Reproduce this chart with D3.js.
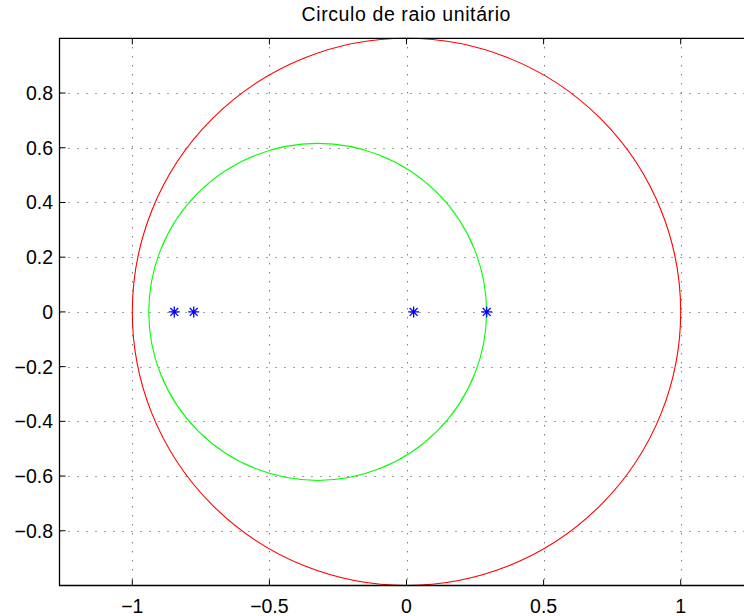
<!DOCTYPE html>
<html>
<head>
<meta charset="utf-8">
<script src="https://cdn.jsdelivr.net/npm/d3@7/dist/d3.min.js"></script>
<style>
  html, body { margin: 0; padding: 0; background: #fff; }
  svg { display: block; }
  text { font-family: "Liberation Sans", Arial, Helvetica, sans-serif; fill: #000; }
</style>
</head>
<body>
<div id="chart"></div>
<script>
// Chart data
const chartTitle = "Circulo de raio unitário";
const xTicks = [-1, -0.5, 0, 0.5, 1];
const yTicks = [-0.8, -0.6, -0.4, -0.2, 0, 0.2, 0.4, 0.6, 0.8];
const xDomain = [-1.2655, 1.2655];
const yDomain = [-1, 1];

// Circles: unit circle (red) and inner circle (green)
const circleNames = ["unit", "inner"];
const circleCenterX = [0, -0.324];
const circleCenterY = [0, 0];
const circleRadius = [1, 0.616];
const circleColors = ["#ff0000", "#00ff00"];

// Points marked with asterisks on the real axis
const pointX = [-0.847, -0.776, 0.026, 0.2925];
const pointY = [0, 0, 0, 0];

const W = 744, H = 616;
const plotLeft = 59.5, plotRight = 753.5, plotTop = 38.3, plotBottom = 585.5;

const svg = d3.select("#chart").append("svg")
  .attr("width", W).attr("height", H);

const x = d3.scaleLinear().domain(xDomain).range([plotLeft, plotRight]);
const y = d3.scaleLinear().domain(yDomain).range([plotBottom, plotTop]);

const fmt = v => (v < 0 ? "\u2212" : "") + String(Math.abs(+v.toFixed(2)));

// Dotted grid
const grid = svg.append("g")
  .attr("stroke", "#444").attr("stroke-width", 1)
  .attr("stroke-dasharray", "1,8");
grid.selectAll("line.gx").data(xTicks).enter().append("line")
  .attr("x1", d => Math.round(x(d)) + 0.5).attr("x2", d => Math.round(x(d)) + 0.5)
  .attr("y1", plotTop).attr("y2", plotBottom);
grid.selectAll("line.gy").data(yTicks).enter().append("line")
  .attr("y1", d => Math.round(y(d)) + 0.5).attr("y2", d => Math.round(y(d)) + 0.5)
  .attr("x1", plotLeft).attr("x2", plotRight);

// Circles
svg.append("g").selectAll("ellipse").data(circleNames).enter().append("ellipse")
  .attr("cx", (d, i) => x(circleCenterX[i]))
  .attr("cy", (d, i) => y(circleCenterY[i]))
  .attr("rx", (d, i) => x(circleRadius[i]) - x(0))
  .attr("ry", (d, i) => y(0) - y(circleRadius[i]))
  .attr("fill", "none")
  .attr("stroke", (d, i) => circleColors[i])
  .attr("stroke-width", 1.1);

// Asterisk markers
const s = 5.5, sd = s * 0.72;
const star = `M${-s},0L${s},0M0,${-s}L0,${s}M${-sd},${-sd}L${sd},${sd}M${-sd},${sd}L${sd},${-sd}`;
svg.append("g").selectAll("path").data(pointX).enter().append("path")
  .attr("transform", (d, i) => `translate(${x(d)},${y(pointY[i])})`)
  .attr("d", star)
  .attr("fill", "none").attr("stroke", "#0000ff").attr("stroke-width", 1.3);

// Axes box and inward ticks
const ax = svg.append("g").attr("stroke", "#000").attr("stroke-width", 1.3).attr("fill", "none");
ax.append("path").attr("d", `M${plotRight},${plotTop}H${plotLeft}V${plotBottom}H${plotRight}V${plotTop}`);
const tl = 6;
ax.selectAll("line.tb").data(xTicks).enter().append("line")
  .attr("x1", d => x(d)).attr("x2", d => x(d)).attr("y1", plotBottom).attr("y2", plotBottom - tl)
  .attr("stroke-width", 1);
ax.selectAll("line.tt").data(xTicks).enter().append("line")
  .attr("x1", d => x(d)).attr("x2", d => x(d)).attr("y1", plotTop).attr("y2", plotTop + tl)
  .attr("stroke-width", 1);
ax.selectAll("line.tl").data(yTicks).enter().append("line")
  .attr("y1", d => y(d)).attr("y2", d => y(d)).attr("x1", plotLeft).attr("x2", plotLeft + tl)
  .attr("stroke-width", 1);
ax.selectAll("line.tr").data(yTicks).enter().append("line")
  .attr("y1", d => y(d)).attr("y2", d => y(d)).attr("x1", plotRight).attr("x2", plotRight - tl)
  .attr("stroke-width", 1);

// Tick labels
svg.append("g").selectAll("text").data(xTicks).enter().append("text")
  .attr("x", d => x(d)).attr("y", 613)
  .attr("text-anchor", "middle").attr("font-size", 19.5)
  .text(fmt);
svg.append("g").selectAll("text").data(yTicks).enter().append("text")
  .attr("x", 53).attr("y", d => y(d) + 7)
  .attr("text-anchor", "end").attr("font-size", 19.5)
  .text(fmt);

// Title
svg.append("text")
  .attr("x", 406.3).attr("y", 21)
  .attr("text-anchor", "middle").attr("font-size", 19.5)
  .attr("letter-spacing", 0.6)
  .text(chartTitle);
</script>
</body>
</html>
